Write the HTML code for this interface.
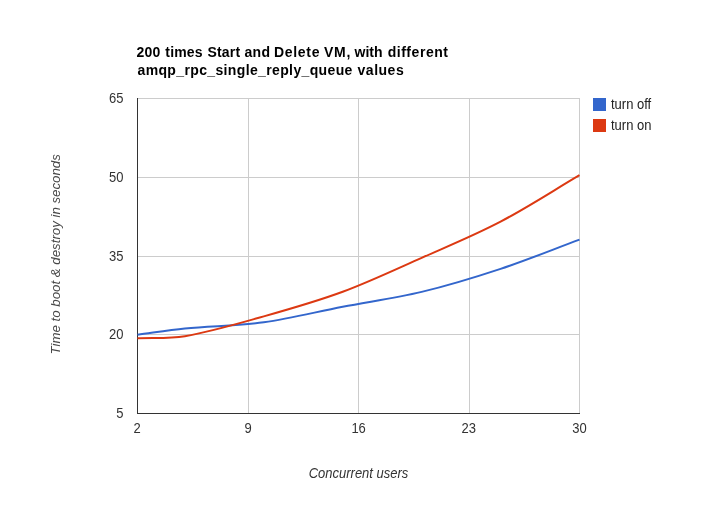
<!DOCTYPE html>
<html><head><meta charset="utf-8"><style>
html,body{margin:0;padding:0;background:#fff;}
svg{display:block;will-change:transform;}
</style></head><body>
<svg width="717" height="511" viewBox="0 0 717 511">
<rect x="0" y="0" width="717" height="511" fill="#ffffff"/>
<g font-family="'Liberation Sans', Arial, sans-serif" font-size="14" font-weight="bold" fill="#000">
<text x="136.61" y="57" letter-spacing="0.151">200</text>
<text x="165.33" y="57" letter-spacing="0.143">times</text>
<text x="207.4" y="57" letter-spacing="0.194">Start</text>
<text x="244.44" y="57" letter-spacing="0.347">and</text>
<text x="273.91" y="57" letter-spacing="0.709">Delete</text>
<text x="324.0" y="57" letter-spacing="0.771">VM,</text>
<text x="354.44" y="57" letter-spacing="0.078">with</text>
<text x="387.63" y="57" letter-spacing="0.543">different</text>
<text x="137.49" y="75" letter-spacing="0.364">amqp_rpc_single_reply_queue</text>
<text x="357.55" y="75" letter-spacing="0.509">values</text>
</g>
<g>
<rect x="137" y="98" width="442" height="315" fill="#fff"/>
<rect x="137" y="98" width="442" height="1" fill="#cccccc"/>
<rect x="137" y="177" width="442" height="1" fill="#cccccc"/>
<rect x="137" y="256" width="442" height="1" fill="#cccccc"/>
<rect x="137" y="334" width="442" height="1" fill="#cccccc"/>
<rect x="248" y="98" width="1" height="315" fill="#cccccc"/>
<rect x="358" y="98" width="1" height="315" fill="#cccccc"/>
<rect x="469" y="98" width="1" height="315" fill="#cccccc"/>
<rect x="579" y="98" width="1" height="315" fill="#cccccc"/>
<rect x="137" y="413" width="443" height="1" fill="#333333"/>
<rect x="137" y="98" width="1" height="316" fill="#333333"/>
</g>
<g fill="none" stroke-width="2" stroke-linejoin="round" stroke-linecap="butt">
<path d="M137.50,334.75 C153.29,332.66 169.07,330.05 184.86,328.50 C211.17,325.92 237.48,325.96 263.79,322.34 C290.10,318.71 316.40,311.82 342.71,306.74 C369.02,301.67 395.33,298.19 421.64,291.88 C447.95,285.56 474.26,277.55 500.57,268.85 C526.88,260.14 553.19,249.39 579.50,239.66" stroke="#3366cc"/>
<path d="M137.50,338.23 C153.29,337.55 169.07,338.93 184.86,336.20 C211.17,331.64 237.48,323.76 263.79,316.35 C290.10,308.94 316.40,301.51 342.71,291.75 C369.02,281.99 395.33,269.50 421.64,257.81 C447.95,246.12 474.26,235.38 500.57,221.61 C526.88,207.84 553.19,190.65 579.50,175.17" stroke="#dc3912"/>
</g>
<g font-family="'Liberation Sans', Arial, sans-serif" font-size="13" fill="#333333">
<text transform="translate(123.5,103) scale(1,1.08)" text-anchor="end">65</text>
<text transform="translate(123.5,182) scale(1,1.08)" text-anchor="end">50</text>
<text transform="translate(123.5,261) scale(1,1.08)" text-anchor="end">35</text>
<text transform="translate(123.5,339) scale(1,1.08)" text-anchor="end">20</text>
<text transform="translate(123.5,418) scale(1,1.08)" text-anchor="end">5</text>
<text transform="translate(137,433) scale(1,1.08)" text-anchor="middle">2</text>
<text transform="translate(248,433) scale(1,1.08)" text-anchor="middle">9</text>
<text transform="translate(358.6,433) scale(1,1.08)" text-anchor="middle">16</text>
<text transform="translate(468.65,433) scale(1,1.08)" text-anchor="middle">23</text>
<text transform="translate(579.5,433) scale(1,1.08)" text-anchor="middle">30</text>
<text transform="translate(358.5,477.5) scale(1,1.08)" text-anchor="middle" font-style="italic">Concurrent users</text>
<text transform="translate(60,254.3) rotate(-90) scale(1.02,1)" text-anchor="middle" font-style="italic" fill="#484848">Time to boot &amp; destroy in seconds</text>
</g>
<g>
<rect x="593" y="98" width="13" height="13" fill="#3366cc"/>
<rect x="593" y="119" width="13" height="13" fill="#dc3912"/>
<g font-family="'Liberation Sans', Arial, sans-serif" font-size="13" fill="#222222">
<text transform="translate(611,109.4) scale(1,1.08)">turn off</text>
<text transform="translate(611,130.4) scale(1,1.08)">turn on</text>
</g>
</g>
</svg>
</body></html>
